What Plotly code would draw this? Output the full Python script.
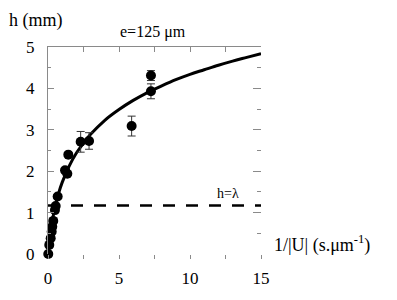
import plotly.graph_objects as go

# measured points
pt_x = [0.02, 0.09, 0.19, 0.26, 0.30, 0.37, 0.49, 0.54, 0.68, 1.20, 1.36, 1.43, 2.30, 2.89, 5.89, 7.25, 7.25]
pt_y = [0.00, 0.22, 0.38, 0.54, 0.66, 0.80, 1.06, 1.16, 1.39, 2.02, 1.94, 2.40, 2.71, 2.73, 3.09, 4.31, 3.93]
pt_err = [0, 0, 0, 0, 0, 0, 0, 0, 0, 0, 0, 0, 0.25, 0.20, 0.24, 0.12, 0.18]

# fit curve
fit_x = [0, 0.1, 0.2, 0.35, 0.5, 0.75, 1, 1.5, 2, 2.5, 3, 4, 5, 6, 7, 8, 9, 10, 11, 12, 13, 14, 15]
fit_y = [0, 0.32, 0.58, 0.89, 1.14, 1.47, 1.73, 2.13, 2.44, 2.68, 2.89, 3.23, 3.49, 3.71, 3.90,
         4.06, 4.21, 4.34, 4.45, 4.56, 4.66, 4.75, 4.84]

# h = lambda level
lam_x = [0, 15]
lam_y = [1.17, 1.17]

x_ticks = [0, 5, 10, 15]
x_ticktext = ["0", "5", "10", "15"]
y_ticks = [0, 1, 2, 3, 4, 5]
y_ticktext = ["0", "1", "2", "3", "4", "5"]

FONT = "Liberation Serif"
GREY = "#8a8a8a"

fig = go.Figure()
fig.add_trace(go.Scatter(x=fit_x, y=fit_y, mode="lines", line=dict(color="black", width=3, shape="spline"),
                         showlegend=False, hoverinfo="skip"))
fig.add_trace(go.Scatter(x=pt_x, y=pt_y, mode="markers",
                         marker=dict(color="black", size=10),
                         error_y=dict(type="data", array=pt_err, color="#333", thickness=1, width=4),
                         cliponaxis=False, showlegend=False))
fig.add_trace(go.Scatter(x=lam_x, y=lam_y, mode="lines", xaxis="x2", yaxis="y2",
                         line=dict(color="black", width=2.5, dash="12px,11px"),
                         showlegend=False, hoverinfo="skip"))

# page body has an 8px margin: figure is shifted by (8, 8) on screen
fig.update_layout(
    width=389, height=292,
    margin=dict(l=40, r=136, t=39, b=44),
    paper_bgcolor="white", plot_bgcolor="white",
    font=dict(family=FONT, size=17, color="black"),
    xaxis=dict(range=[0, 15], showline=False, showgrid=False, zeroline=False,
               tickmode="array", tickvals=x_ticks, ticktext=x_ticktext,
               ticks="outside", ticklen=4, tickcolor=GREY, tickwidth=1,
               minor=dict(dtick=2.5, tick0=0, ticks="outside", ticklen=4, tickcolor=GREY),
               ticklabelstandoff=5, tickfont=dict(family=FONT, size=17)),
    yaxis=dict(range=[0, 5], showline=True, linecolor=GREY, linewidth=1, showgrid=False, zeroline=False,
               tickmode="array", tickvals=y_ticks, ticktext=y_ticktext,
               ticks="inside", ticklen=6, tickcolor=GREY, tickwidth=1,
               minor=dict(dtick=0.5, tick0=0, ticks="inside", ticklen=3, tickcolor=GREY),
               ticklabelstandoff=9, tickfont=dict(family=FONT, size=17)),
    xaxis2=dict(range=[0, 15], overlaying="x", side="top", anchor="y2", showline=True, linecolor=GREY,
                linewidth=1, showgrid=False, zeroline=False, tickmode="linear", tick0=0, dtick=2.5,
                ticks="inside", ticklen=5, tickcolor=GREY, showticklabels=False),
    yaxis2=dict(range=[0, 5], overlaying="y", side="right", anchor="x2", showline=False, showgrid=False,
                zeroline=False, tickmode="array", tickvals=y_ticks, ticks="inside", ticklen=8,
                tickcolor=GREY, showticklabels=False,
                minor=dict(dtick=0.5, tick0=0, ticks="inside", ticklen=4, tickcolor=GREY)),
    annotations=[
        dict(text="h (mm)", xref="paper", yref="paper", x=(7-48)/213, y=(256-20)/209,
             xanchor="left", yanchor="middle", showarrow=False, font=dict(family=FONT, size=18)),
        dict(text="e=125 μm", xref="paper", yref="paper", x=(153-48)/213, y=(256-32)/209,
             xanchor="center", yanchor="middle", showarrow=False, font=dict(family=FONT, size=16)),
        dict(text="1/|U| (s.μm<sup>-1</sup>)", xref="paper", yref="paper", x=(272-48)/213,
             y=(256-246)/209, xanchor="left", yanchor="middle", showarrow=False,
             font=dict(family=FONT, size=18)),
        dict(text="h=λ", xref="x", yref="y", x=11.76, y=1.45, xanchor="left", yanchor="middle",
             showarrow=False, font=dict(family=FONT, size=14)),
    ],
)

fig.write_html("out.html")
